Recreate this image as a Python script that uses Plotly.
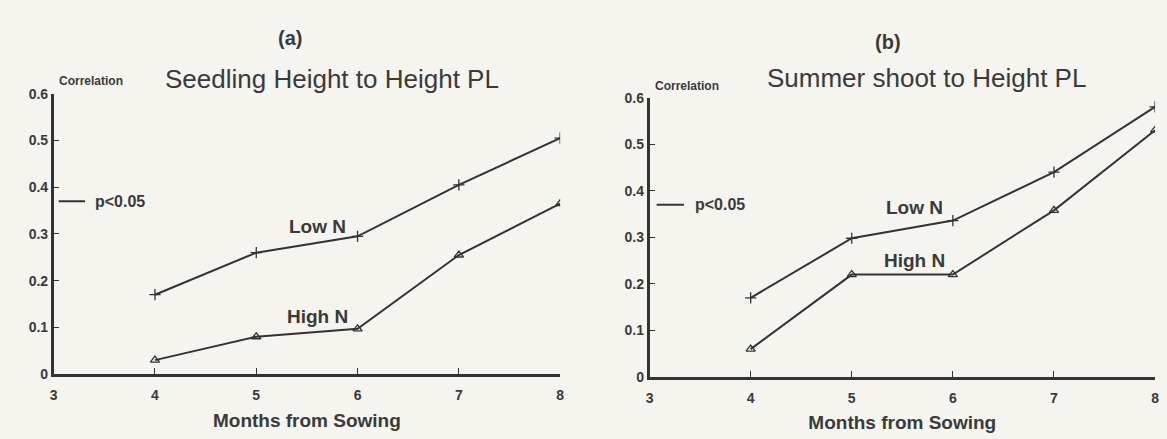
import plotly.graph_objects as go

months = [4, 5, 6, 7, 8]
a_low_n = [0.17, 0.26, 0.295, 0.405, 0.505]
a_high_n = [0.03, 0.08, 0.097, 0.255, 0.365]
b_low_n = [0.17, 0.298, 0.336, 0.44, 0.58]
b_high_n = [0.06, 0.22, 0.22, 0.358, 0.53]
y_ticks = [0, 0.1, 0.2, 0.3, 0.4, 0.5, 0.6]
y_tick_text = ["0", "0.1", "0.2", "0.3", "0.4", "0.5", "0.6"]
x_ticks = [3, 4, 5, 6, 7, 8]
P_LEVEL = 0.37

INK = "#333333"
TXT = "#3a3a3a"
BG = "#f5f4ef"
FONT = "Liberation Sans, Arial, sans-serif"
W, H = 1167, 439

fig = go.Figure()

def add_series(xa, ya, vals, symbol):
    fig.add_trace(go.Scatter(
        x=months, y=vals, xaxis=xa, yaxis=ya, mode="lines+markers",
        line=dict(color=INK, width=2),
        marker=dict(symbol=symbol, size=8, color=INK,
                    line=dict(color=INK, width=1.3)),
        showlegend=False, hoverinfo="x+y"))

add_series("x", "y", a_low_n, "cross-thin")
add_series("x", "y", a_high_n, "triangle-up-open")
add_series("x2", "y2", b_low_n, "cross-thin")
add_series("x2", "y2", b_high_n, "triangle-up-open")

tick_font = dict(family=FONT, size=14, color=TXT, weight="bold")

axis_common = dict(
    range=[3, 8], tickvals=x_ticks, showgrid=False, zeroline=False,
    showline=True, linecolor=INK, linewidth=2.5, ticks="inside", ticklen=6,
    tickcolor=INK, tickwidth=1.3, tickfont=tick_font, ticklabelstandoff=6,
    title=dict(text="<b>Months from Sowing</b>", standoff=12,
               font=dict(family=FONT, size=19, color=TXT)),
    fixedrange=True)
yaxis_common = dict(
    range=[0, 0.6], tickvals=y_ticks, ticktext=y_tick_text, showgrid=False,
    zeroline=False, showline=True, linecolor=INK, linewidth=2.5,
    ticks="inside", ticklen=6, tickcolor=INK, tickwidth=1.3, tickfont=tick_font,
    fixedrange=True)

fig.update_layout(
    width=W, height=H,
    margin=dict(l=0, r=0, t=0, b=0),
    paper_bgcolor=BG, plot_bgcolor=BG,
    xaxis=dict(domain=[50/W, 560/W], anchor="y", **axis_common),
    yaxis=dict(domain=[(H-380)/H, (H-89)/H], anchor="x", **yaxis_common),
    xaxis2=dict(domain=[650/W, 1159/W], anchor="y2", **axis_common),
    yaxis2=dict(domain=[(H-383)/H, (H-93)/H], anchor="x2", **yaxis_common),
    font=dict(family=FONT, color=TXT),
)

ann = []
def text(x, y, t, size, xref="paper", yref="paper", xanchor="center", bold=False):
    ann.append(dict(x=x, y=y, xref=xref, yref=yref, text=f"<b>{t}</b>" if bold else t,
                    showarrow=False, xanchor=xanchor, yanchor="middle",
                    font=dict(family=FONT, size=size, color=TXT)))

# panel (a)
text(288/W, 1-31/H, "(a)", 20, bold=True)
text(330/W, 1-74/H, "Seedling Height to Height PL", 26)
text(88/W, 1-76/H, "Correlation", 12, bold=True)
text(5.6, 0.315, "Low N", 19, "x", "y", bold=True)
text(5.6, 0.124, "High N", 19, "x", "y", bold=True)
text(3.39, P_LEVEL, "p<0.05", 16, "x", "y", "left", bold=True)
# panel (b)
text(890/W, 1-35/H, "(b)", 20, bold=True)
text(929/W, 1-73/H, "Summer shoot to Height PL", 26)
text(688/W, 1-81/H, "Correlation", 12, bold=True)
text(5.62, 0.364, "Low N", 19, "x2", "y2", bold=True)
text(5.62, 0.25, "High N", 19, "x2", "y2", bold=True)
text(3.43, P_LEVEL, "p<0.05", 16, "x2", "y2", "left", bold=True)
fig.update_layout(annotations=ann)

fig.add_shape(type="line", xref="x", yref="y", x0=3.05, x1=3.31, y0=P_LEVEL, y1=P_LEVEL,
              line=dict(color=INK, width=2))
fig.add_shape(type="line", xref="x2", yref="y2", x0=3.07, x1=3.34, y0=P_LEVEL, y1=P_LEVEL,
              line=dict(color=INK, width=2))

fig.write_html("out.html", config={"displayModeBar": False},
               post_script="document.body.style.margin='0';document.body.style.background='#f5f4ef';")
